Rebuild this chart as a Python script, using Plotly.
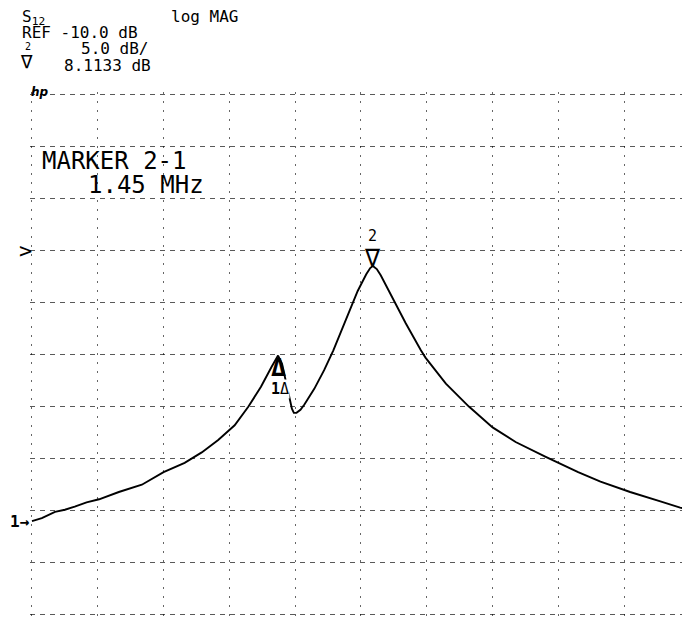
import plotly.graph_objects as go

# ---- data (1 MHz/div, 10 div span, offset in MHz) ----
freq_mhz = [0.00, 0.15, 0.35, 0.50, 0.65, 0.83, 1.02, 1.32, 1.67, 2.00, 2.32, 2.58,
            2.83, 3.08, 3.29, 3.48, 3.64, 3.70, 3.74, 3.80, 3.86, 3.92, 3.95, 3.98,
            4.02, 4.08, 4.14, 4.29, 4.44, 4.58, 4.70, 4.82, 4.95, 5.08, 5.14, 5.18,
            5.24, 5.30, 5.50, 5.68, 5.91, 5.98, 6.29, 6.64, 7.00, 7.35, 7.80, 8.30,
            8.64, 9.09, 9.55, 9.85, 10.00]
s12_db = [-36.0, -35.7, -35.1, -34.9, -34.6, -34.2, -33.9, -33.2, -32.5, -31.3, -30.4, -29.4,
          -28.2, -26.8, -25.0, -23.1, -21.2, -20.5, -20.1, -20.9, -22.6, -24.5, -25.2, -25.6,
          -25.6, -25.3, -24.8, -23.3, -21.5, -19.6, -17.7, -15.8, -13.9, -12.3, -11.7, -11.5,
          -11.8, -12.4, -14.9, -17.0, -19.6, -20.3, -22.8, -25.0, -27.0, -28.4, -29.8, -31.3,
          -32.2, -33.2, -34.1, -34.7, -34.9]
marker_freq = [3.74, 5.18]
marker_db = [-20.1, -11.5]
ref_level_db = -10.0
scale_db_per_div = 5.0
n_div = 10
header_lines = ["S<sub>12</sub>", "log MAG", "REF -10.0 dB", "5.0 dB/", "8.1133 dB"]
marker_readout = ["MARKER 2-1", "1.45 MHz"]

# page body has an 8px margin: figure is sized so the grid sits where the reference has it
OFF = 8
WIN_W, WIN_H = 690, 620
GX0, GX1, GY0, GY1 = 30, 690, 92, 617          # grid box in window pixels
W, H = WIN_W - OFF, WIN_H - OFF
L, T = GX0 - OFF, GY0 - OFF
R = W - (GX1 - OFF)
B = H - (GY1 - OFF)


def px(x):
    return (x - GX0) / (GX1 - GX0)


def py(y):
    return (GY1 - y) / (GY1 - GY0)


top_db = ref_level_db + 3 * scale_db_per_div
bot_db = top_db - n_div * scale_db_per_div

fig = go.Figure()
fig.add_trace(go.Scatter(x=freq_mhz, y=s12_db, mode="lines",
                         line=dict(color="black", width=1.9),
                         showlegend=False, hoverinfo="skip"))

mono = "DejaVu Sans Mono"
ann = []


def txt(text, x, y, size, **kw):
    d = dict(text=text, x=px(x), y=py(y), xref="paper", yref="paper",
             xanchor="left", yanchor="top", showarrow=False, borderpad=0,
             font=dict(family=mono, size=size, color="black"))
    d.update(kw)
    ann.append(d)


txt(header_lines[0], 21, 6, 16)
txt(header_lines[1], 170, 6, 16)
txt(header_lines[2], 21, 22, 16)
txt("2", 24, 40, 10)
txt("∇", 19, 49, 19)
txt(header_lines[3], 80, 38, 16)
txt(header_lines[4], 63, 55, 16)
txt("<i><b>hp</b></i>", 30, 84, 12, font=dict(family="DejaVu Sans", size=12, color="black"))
txt(marker_readout[0], 41, 146, 24)
txt(marker_readout[1], 87, 170, 24)

# reference level pointer and trace-1 start pointer
ann.append(dict(text=">", x=px(33), y=ref_level_db, xref="paper", yref="y", xanchor="right",
                yanchor="middle", showarrow=False, borderpad=0,
                font=dict(family=mono, size=22, color="black")))
ann.append(dict(text="<b>1→</b>", x=px(31), y=s12_db[0], xref="paper", yref="y", xanchor="right",
                yanchor="middle", showarrow=False, borderpad=0,
                font=dict(family=mono, size=16, color="black")))

# marker symbols on the trace
ann.append(dict(text="∇", x=marker_freq[1], y=marker_db[1], xref="x", yref="y",
                xanchor="center", yanchor="bottom", yshift=-7, showarrow=False, borderpad=0,
                font=dict(family=mono, size=25, color="black")))
ann.append(dict(text="2", x=marker_freq[1], y=marker_db[1], xref="x", yref="y",
                xanchor="center", yanchor="bottom", yshift=20, showarrow=False, borderpad=0,
                font=dict(family=mono, size=15, color="black")))
ann.append(dict(text="<b>Δ</b>", x=marker_freq[0], y=marker_db[0], xref="x", yref="y",
                xanchor="center", yanchor="top", yshift=4, showarrow=False, borderpad=0,
                font=dict(family=mono, size=25, color="black")))
ann.append(dict(text="<b>1</b>Δ", x=marker_freq[0], y=marker_db[0], xref="x", yref="y",
                xanchor="left", yanchor="top", xshift=-8, yshift=-23, showarrow=False, borderpad=0,
                bgcolor="white", font=dict(family=mono, size=15, color="black")))

fig.update_layout(
    width=W, height=H,
    margin=dict(l=L, r=R, t=T, b=B, pad=0),
    paper_bgcolor="white", plot_bgcolor="white",
    annotations=ann,
    xaxis=dict(range=[-0.03, n_div], dtick=1, tick0=0, showticklabels=False, ticks="",
               showgrid=True, gridcolor="rgba(0,0,0,0.6)", gridwidth=1, griddash="2px,7px",
               zeroline=False, showline=False, fixedrange=True),
    yaxis=dict(range=[bot_db - 0.2, top_db + 0.2], dtick=scale_db_per_div, tick0=bot_db,
               showticklabels=False, ticks="",
               showgrid=True, gridcolor="rgba(0,0,0,0.65)", gridwidth=1, griddash="5px,5px",
               zeroline=False, showline=False, fixedrange=True),
)

fig.write_html("out.html")
